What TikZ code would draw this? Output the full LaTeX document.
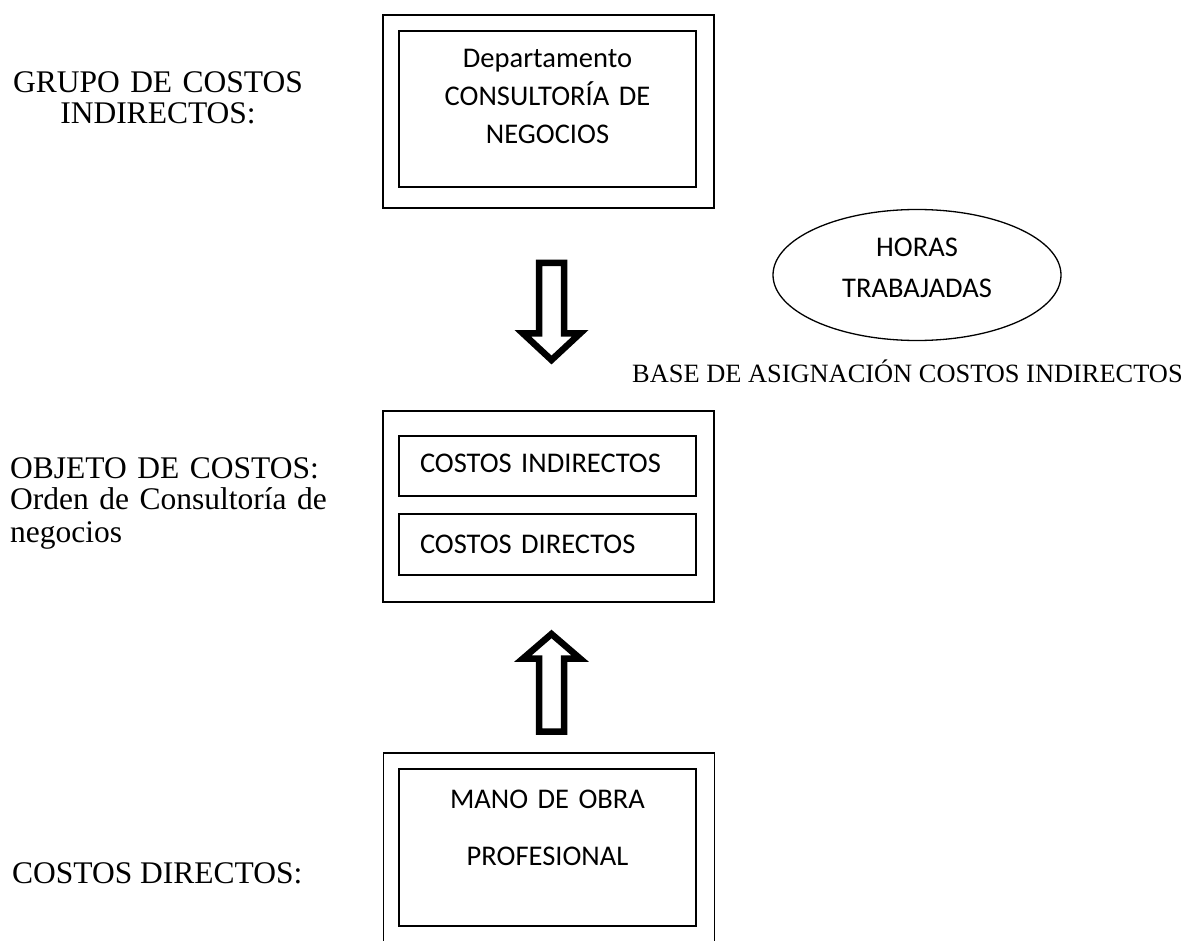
\documentclass[tikz,border=0pt]{standalone}
\usepackage{fontspec}
\setmainfont{Liberation Serif}
\newfontfamily\boxfont{Carlito}
\usetikzlibrary{shapes.geometric}

\begin{document}
\begin{tikzpicture}[x=1pt,y=-1pt,
outerbox/.style={draw, line width=1.6pt, inner sep=0pt, minimum width=331pt},
innerbox/.style={draw, line width=1.6pt, inner sep=0pt, minimum width=297pt, text width=270pt, align=center, font=\boxfont\fontsize{28.5}{38}\selectfont},
costbox/.style={innerbox, text width=255pt, align=left},
tag/.style={inner sep=0pt, anchor=base west, font=\fontsize{31.5}{31}\selectfont},
blockarrow/.style={draw, line width=6.5pt}]

\useasboundingbox (0,0) rectangle (1192,941);

\node[outerbox, minimum height=193pt] (grupo) at (548.5,111.5) {};
\node[innerbox, minimum height=156pt, text height=20pt, text depth=102pt] (depto) at (547.5,109) {Departamento\\CONSULTORÍA DE\\NEGOCIOS};

\node[outerbox, minimum height=191pt] (objeto) at (548.5,506.5) {};
\node[costbox, minimum height=60pt, text height=20pt, text depth=8pt] (ci) at (547.5,466) {COSTOS INDIRECTOS};
\node[costbox, minimum height=61pt, text height=22pt, text depth=5pt] (cd) at (547.5,544.5) {COSTOS DIRECTOS};

\node[outerbox, minimum height=230pt] (mano) at (549,868) {};
\node[innerbox, minimum height=157pt, text height=20pt, text depth=99pt, font=\boxfont\fontsize{28.5}{57}\selectfont] (obra) at (547.5,847.5) {MANO DE OBRA\\PROFESIONAL};

\node[ellipse, draw, line width=1.3pt, inner sep=0pt, minimum width=288pt, minimum height=131pt, text width=200pt, align=center, text height=16pt, text depth=52pt, font=\boxfont\fontsize{28.5}{41}\selectfont] (horas) at (917,275) {HORAS\\TRABAJADAS};

\node[tag, anchor=base, text width=300pt, align=center] (grupotxt) at (158,93) {GRUPO DE COSTOS\\INDIRECTOS:};
\node[tag, text width=330pt, align=left, font=\fontsize{31.5}{32}\selectfont] (objetotxt) at (10,478) {OBJETO DE COSTOS:\\Orden de Consultoría de\\negocios};
\node[tag] (directostxt) at (12,883) {COSTOS DIRECTOS:};
\node[tag, font=\fontsize{26.4}{26}\selectfont] (basetxt) at (632,382) {BASE DE ASIGNACIÓN COSTOS INDIRECTOS};

\draw[blockarrow] (539,263) -- (564,263) -- (564,333.5) -- (580,333.5) -- (551.5,360) -- (523,333.5) -- (539,333.5) -- cycle;
\draw[blockarrow] (539,731.5) -- (564,731.5) -- (564,658.5) -- (580,658.5) -- (551.5,634) -- (523,658.5) -- (539,658.5) -- cycle;
\end{tikzpicture}
\end{document}
